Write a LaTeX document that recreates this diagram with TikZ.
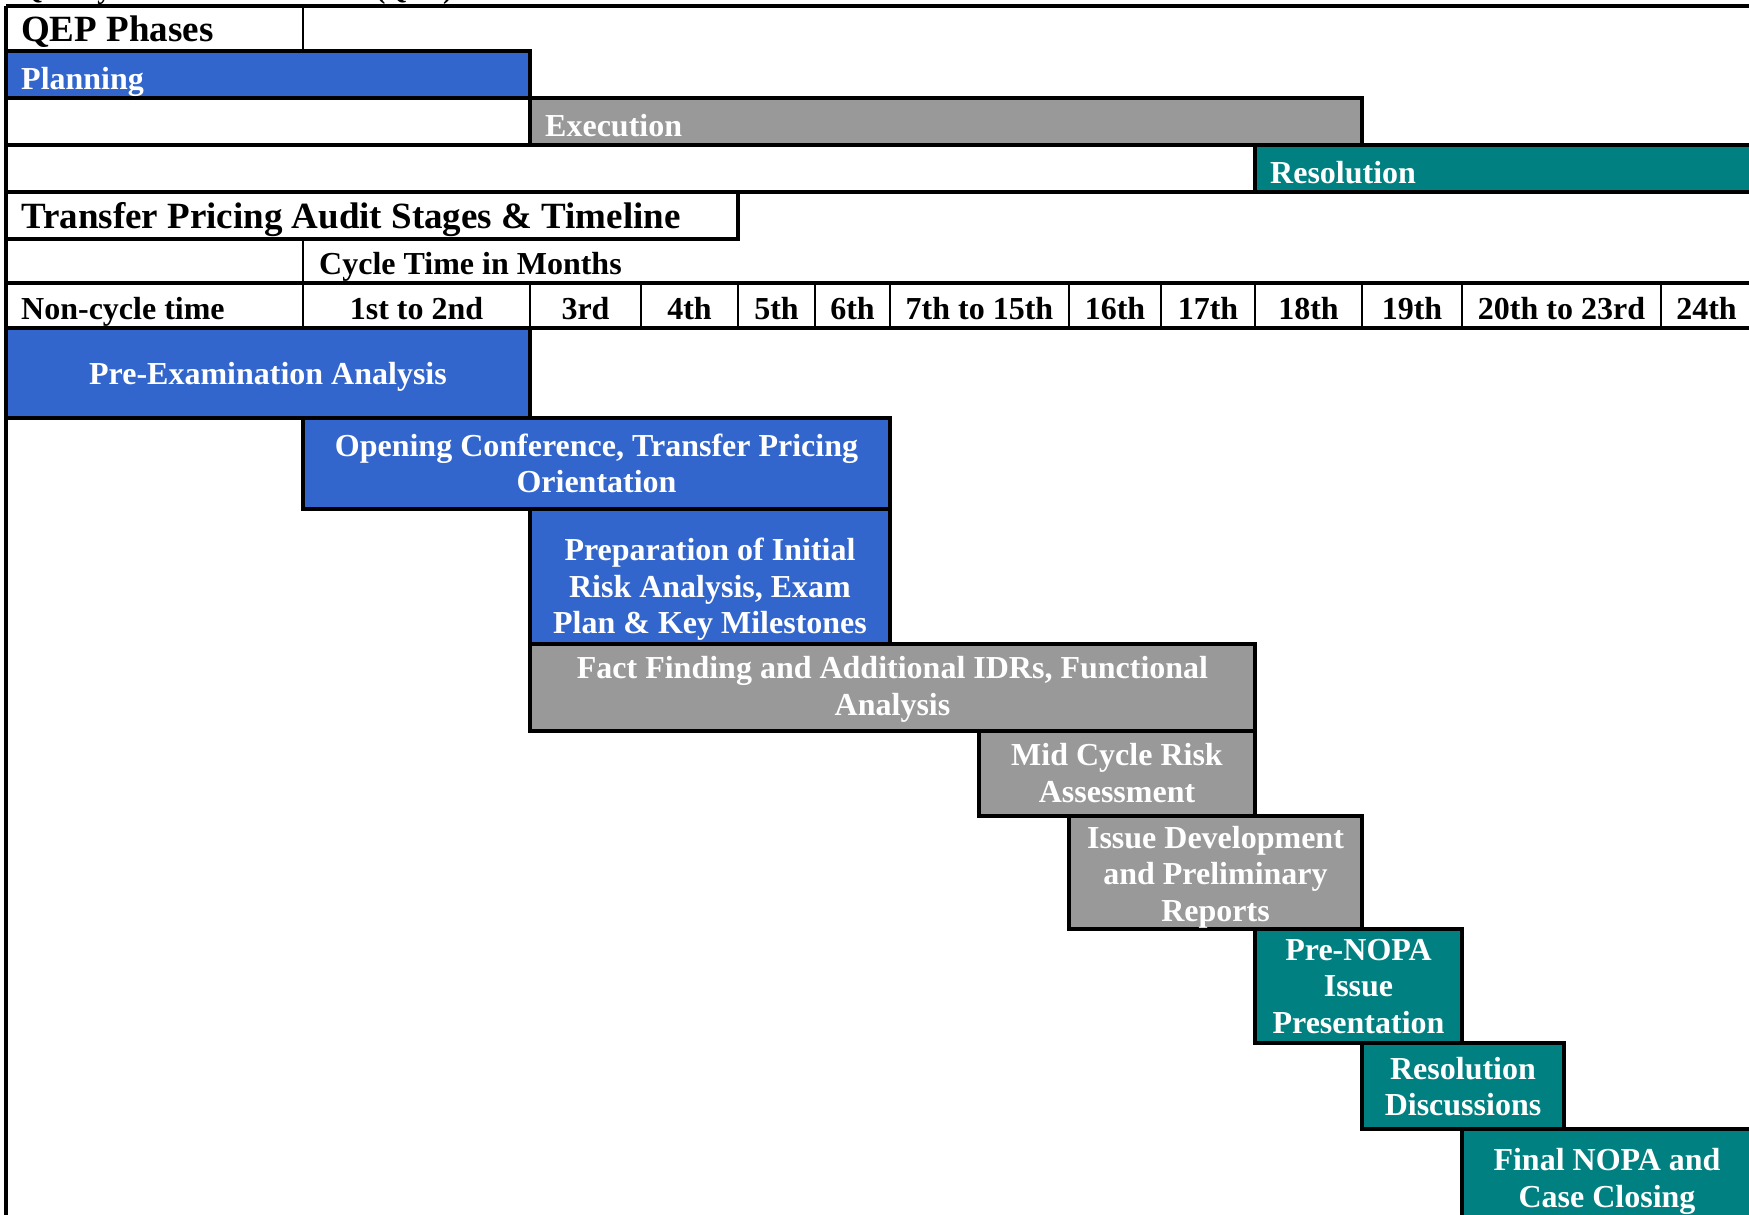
\documentclass[tikz,border=0pt]{standalone}
\usepackage{fontspec}
\setmainfont{Liberation Serif}
\definecolor{qblue}{HTML}{3366CC}
\definecolor{qgray}{HTML}{999999}
\definecolor{qteal}{HTML}{008080}
\newcommand\qbody{\fontsize{32}{36.5}\selectfont\bfseries}
\newcommand\qtitle{\fontsize{37}{42}\selectfont\bfseries}
\newcommand\qstrut{\rule[-12.5pt]{0pt}{36.5pt}}
\begin{document}
\begin{tikzpicture}[x=1pt,y=-1pt,
  edge/.style={line width=3.2pt},
  thinrule/.style={line width=2.1pt},
  barbox/.style={draw=black,line width=3.2pt},
  bluebar/.style={barbox,fill=qblue},
  graybar/.style={barbox,fill=qgray},
  tealbar/.style={barbox,fill=qteal},
  stagetext/.style={text=white,font=\qbody,align=center,inner sep=0pt,anchor=center,yshift=5.75pt},
  phasetext/.style={text=white,font=\qbody,inner sep=0pt,anchor=base west},
  headtext/.style={text=black,font=\qbody,inner sep=0pt,anchor=base},
  titletext/.style={text=black,font=\qtitle,inner sep=0pt,anchor=base west}]
\useasboundingbox (0,0) rectangle (1749,1215);
\clip (0,0) rectangle (1749,1215);

% cut-off heading at the very top
\node[anchor=base west,font=\fontsize{28}{30}\selectfont\bfseries,inner sep=0pt] (toptitle) at (21,-1.5) {Quality Examination Process (QEP)};

% QEP phases block
\path[bluebar] (6,51) rectangle (530,98);
\path[graybar] (530,98) rectangle (1362,145);
\path[tealbar] (1255,145) rectangle (1756,192);
\draw[edge] (6,6) -- (1756,6);
\draw[thinrule] (303,6) -- (303,51);
\draw[edge] (6,145) -- (1756,145);
\draw[edge] (6,192) -- (1756,192);

\node[titletext] (qep) at (21,42) {QEP Phases};
\node[phasetext] (planning) at (21,89.6) {Planning};
\node[phasetext] (execution) at (545,136.5) {Execution};
\node[phasetext] (resolution) at (1270,183.5) {Resolution};

% Transfer pricing header
\draw[edge] (6,192) rectangle (738,239);
\node[titletext] (tptitle) at (21,228.5) {Transfer Pricing Audit Stages \& Timeline};
\draw[thinrule] (303,239) -- (303,283);
\node[headtext,anchor=base west] (cycle) at (319,274.6) {Cycle Time in Months};
\draw[edge] (6,283) -- (1756,283);
\foreach \cx in {303,530,641,738,815,890,1069,1161,1255,1362,1462,1661}
  \draw[thinrule] (\cx,283) -- (\cx,328);
\draw[edge] (6,328) -- (1756,328);

\node[headtext,anchor=base west] (h0) at (21,319.5) {Non-cycle time};
\node[headtext] (h1) at (416.5,319.5) {1st to 2nd};
\node[headtext] (h2) at (585.5,319.5) {3rd};
\node[headtext] (h3) at (689.5,319.5) {4th};
\node[headtext] (h4) at (776.5,319.5) {5th};
\node[headtext] (h5) at (852.5,319.5) {6th};
\node[headtext] (h6) at (979.5,319.5) {7th to 15th};
\node[headtext] (h7) at (1115,319.5) {16th};
\node[headtext] (h8) at (1208,319.5) {17th};
\node[headtext] (h9) at (1308.5,319.5) {18th};
\node[headtext] (h10) at (1412,319.5) {19th};
\node[headtext] (h11) at (1561.5,319.5) {20th to 23rd};
\node[headtext] (h12) at (1706.5,319.5) {24th};

% stage bars
\path[bluebar] (6,328) rectangle (530,418);
\path[bluebar] (303,418) rectangle (890,509);
\path[bluebar] (530,509) rectangle (890,644);
\path[graybar] (530,644) rectangle (1255,731);
\path[graybar] (979,731) rectangle (1255,816);
\path[graybar] (1069,816) rectangle (1362,929);
\path[tealbar] (1255,929) rectangle (1462,1043);
\path[tealbar] (1362,1043) rectangle (1564,1129);
\path[tealbar] (1462,1129) rectangle (1756,1245);

% left border
\draw[edge] (6,6) -- (6,1245);

\node[stagetext] (pre) at (268,384.2) {\qstrut Pre-Examination Analysis};
\node[stagetext] (open) at (596.5,474.5) {\qstrut Opening Conference, Transfer Pricing\\\qstrut Orientation};
\node[stagetext] (prep) at (710,597.2) {\qstrut Preparation of Initial\\\qstrut Risk Analysis, Exam\\\qstrut Plan \& Key Milestones};
\node[stagetext] (fact) at (892.5,697) {\qstrut Fact Finding and Additional IDRs, Functional\\\qstrut Analysis};
\node[stagetext] (mid) at (1117,784) {\qstrut Mid Cycle Risk\\\qstrut Assessment};
\node[stagetext] (issue) at (1215.5,884.5) {\qstrut Issue Development\\\qstrut and Preliminary\\\qstrut Reports};
\node[stagetext] (prenopa) at (1358.5,996.5) {\qstrut Pre-NOPA\\\qstrut Issue\\\qstrut Presentation};
\node[stagetext] (resdisc) at (1463,1097.5) {\qstrut Resolution\\\qstrut Discussions};
\node[stagetext] (final) at (1607,1189) {\qstrut Final NOPA and\\\qstrut Case Closing};
\end{tikzpicture}
\end{document}
